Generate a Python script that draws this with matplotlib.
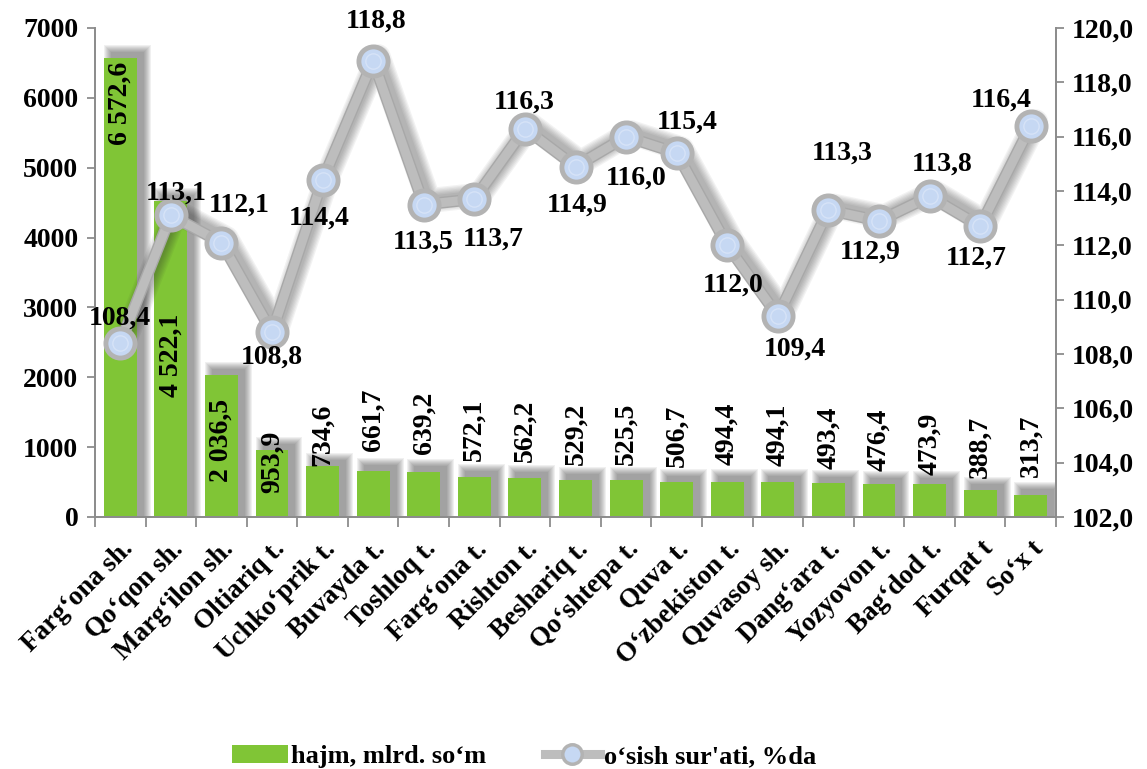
import matplotlib
matplotlib.use("Agg")
import matplotlib.pyplot as plt
import matplotlib.transforms as mtransforms
from matplotlib.patches import Patch
from matplotlib.lines import Line2D
import numpy as np

plt.rcParams['font.family'] = ['Liberation Serif', 'DejaVu Serif']
plt.rcParams['font.weight'] = 'bold'

categories = ["Farg‘ona sh.", "Qo‘qon sh.", "Marg‘ilon sh.", "Oltiariq t.",
              "Uchko‘prik t.", "Buvayda t.", "Toshloq t.", "Farg‘ona t.",
              "Rishton t.", "Beshariq t.", "Qo‘shtepa t.", "Quva t.",
              "O‘zbekiston t.", "Quvasoy sh.", "Dang‘ara t.", "Yozyovon t.",
              "Bag‘dod t.", "Furqat t", "So‘x t"]
volume = [6572.6, 4522.1, 2036.5, 953.9, 734.6, 661.7, 639.2, 572.1, 562.2,
          529.2, 525.5, 506.7, 494.4, 494.1, 493.4, 476.4, 473.9, 388.7, 313.7]
growth = [108.4, 113.1, 112.1, 108.8, 114.4, 118.8, 113.5, 113.7, 116.3,
          114.9, 116.0, 115.4, 112.0, 109.4, 113.3, 112.9, 113.8, 112.7, 116.4]

left_ticks = [0, 1000, 2000, 3000, 4000, 5000, 6000, 7000]
right_ticks = [102, 104, 106, 108, 110, 112, 114, 116, 118, 120]

GREEN = '#80c536'
LINE = '#bdbdbd'
SPINE = '#8c8c8c'

# growth label offsets (pixels, relative to the marker)
lbl_off = [(0, 25), (5, 22), (18, 37), (0, -25), (-3, -38), (3, 39), (-1, -38),
           (19, -40), (-1, 26), (2, -39), (10, -42), (11, 31), (6, -40),
           (17, -33), (14, 57), (-9, -31), (13, 32), (-4, -32), (-30, 26)]
# vertical centre of the in-bar labels for the first four bars (data units)
inner_lbl_y = [5926, 2319, 1102, 787]
# gap (pixels) between bar top and the labels above it
gap_px = [0, 20, 18, 16, 16, 15, 15, 15, 17, 16, 14, 13, 9, 12, 18]

fig = plt.figure(figsize=(11.47, 7.69), dpi=100)
ax = fig.add_axes([0.0828, 0.3277, 0.8379, 0.6359])
ax2 = ax.twinx()

n = len(categories)
x = np.arange(n)
w = 0.65

# bar shadows (soft, offset up-right)
px_x = 1.0 / 50.6
px_y = 1000.0 / 69.86
for e in np.linspace(7, 0, 8):
    ax.bar(x + 7 * px_x, np.array(volume) + 6 * px_y + e * px_y,
           width=w + 2 * e * px_x, color='#3c3c3c', alpha=0.075, zorder=1,
           linewidth=0)
ax.bar(x, volume, width=w, color=GREEN, zorder=2, linewidth=0)

k = len(inner_lbl_y)
for i, v in enumerate(volume):
    txt = f"{v:,.1f}".replace(",", " ").replace(".", ",")
    if i < k:
        ax.text(i, inner_lbl_y[i], txt, rotation=90, ha='center', va='center',
                fontsize=20, fontweight='bold', zorder=5)
    else:
        ax.text(i, v + gap_px[i - k] * px_y, txt, rotation=90, ha='center',
                va='bottom', fontsize=20, fontweight='bold', zorder=5)

ax.set_xlim(-0.5, n - 0.5)
ax.set_ylim(0, 7000)
ax.set_yticks(left_ticks)
ax.set_yticklabels([str(t) for t in left_ticks], fontsize=20, fontweight='bold')
ax.set_xticks(x)
ax.set_xticklabels(categories, rotation=45, ha='right', va='top',
                   rotation_mode='anchor', fontsize=19.5, fontweight='bold')
shift = mtransforms.ScaledTranslation(8 / 100, -10 / 100, fig.dpi_scale_trans)
for lab in ax.get_xticklabels():
    lab.set_transform(lab.get_transform() + shift)
ax.set_xticks(np.arange(-0.5, n, 1.0), minor=True)
ax.tick_params(axis='x', which='major', length=0, pad=14)
ax.tick_params(axis='x', which='minor', length=7, color=SPINE, width=1.3, direction='out')
ax.tick_params(axis='y', length=6, color=SPINE, width=1.3, pad=6)

# growth line with soft shadow
for lw_s in np.linspace(18, 7, 7):
    tr = mtransforms.offset_copy(ax2.transData, fig=fig, x=5, y=4, units='dots')
    ax2.plot(x, growth, color='#303030', lw=lw_s, alpha=0.06, transform=tr,
             solid_joinstyle='round', solid_capstyle='round', zorder=2)
ax2.plot(x, growth, color='#a8a8a8', lw=8.5, solid_joinstyle='round', zorder=3)
ax2.plot(x, growth, color=LINE, lw=6.5, solid_joinstyle='round', zorder=4,
         marker='o', markersize=21, markerfacecolor='#c6d8f3',
         markeredgecolor='#b3b3b3', markeredgewidth=3.5)
ax2.plot(x, growth, lw=0, marker='o', markersize=11, markerfacecolor='#c6d8f3',
         markeredgecolor='#d6e3f7', markeredgewidth=1, zorder=5)

for i, g in enumerate(growth):
    dx, dy = lbl_off[i]
    ax2.annotate(f"{g:.1f}".replace(".", ","), (i, g), xytext=(dx, dy),
                 textcoords='offset pixels', ha='center', va='center',
                 fontsize=20, fontweight='bold', zorder=6)

ax2.set_ylim(102, 120)
ax2.set_yticks(right_ticks)
ax2.set_yticklabels([f"{t:.1f}".replace(".", ",") for t in right_ticks],
                    fontsize=20, fontweight='bold')
ax2.tick_params(axis='y', length=6, color=SPINE, width=1.3, pad=5)

for a_ in (ax, ax2):
    a_.spines['top'].set_visible(False)
    for s in ('left', 'right', 'bottom'):
        a_.spines[s].set_color(SPINE)
        a_.spines[s].set_linewidth(1.3)

handles = [Patch(facecolor=GREEN, edgecolor='none', label='hajm, mlrd. so‘m'),
           Line2D([0], [0], color=LINE, lw=6.5, marker='o', markersize=14,
                  markerfacecolor='#c6d8f3', markeredgecolor='#b3b3b3',
                  markeredgewidth=2.5, label="o‘sish sur'ati, %da")]
fig.legend(handles=handles, loc='center', bbox_to_anchor=(0.457, 0.016),
           ncol=2, frameon=False, prop={'size': 19, 'weight': 'bold'},
           handlelength=2.1, handletextpad=0.15, columnspacing=2.2)

fig.savefig('out.png', dpi=100)
